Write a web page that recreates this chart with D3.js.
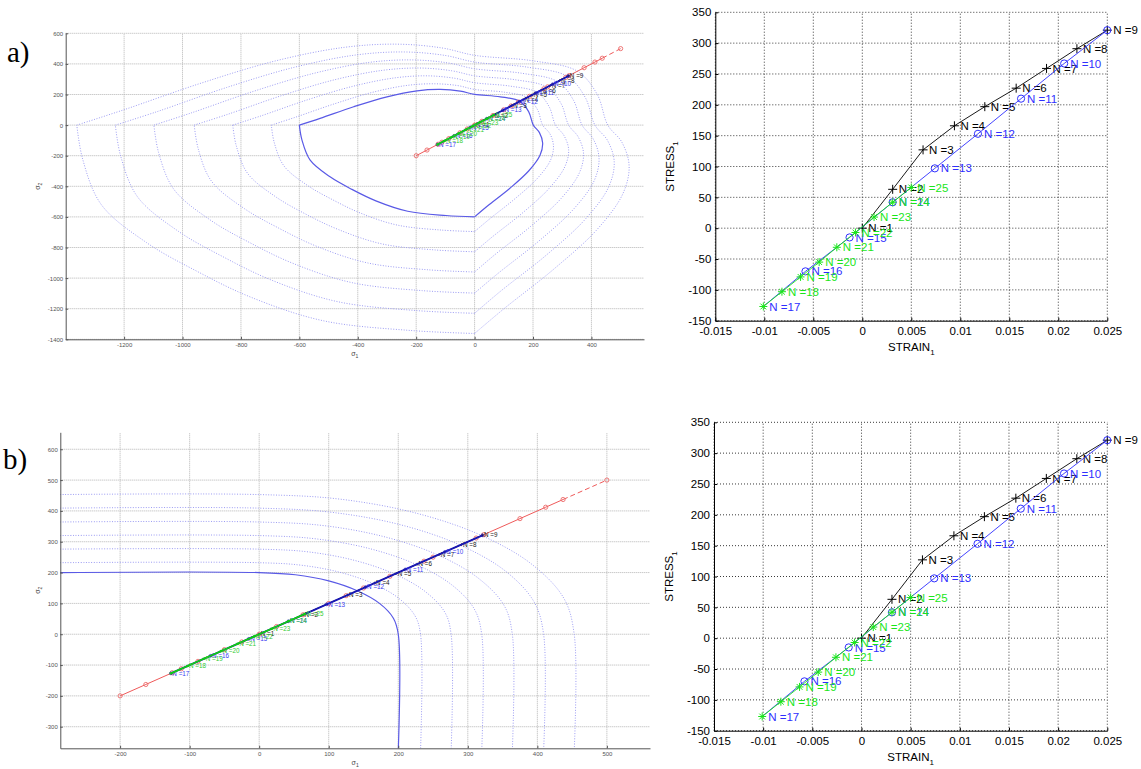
<!DOCTYPE html>
<html>
<head>
<meta charset="utf-8">
<script src="https://cdn.jsdelivr.net/npm/d3@7/dist/d3.min.js"></script>
<style>
    body { margin: 0; background: #fff; }
    svg { display: block; }
    text { font-family: "Liberation Sans", Arial, Helvetica, sans-serif; }
</style>
</head>
<body>
<svg id="fig" width="1141" height="769"></svg>
<script>
// cycle points: loading (black), unloading (blue), reloading (green)
var blackN = [1, 2, 3, 4, 5, 6, 7, 8, 9];
var blackStrain = [0, 0.0031, 0.0062, 0.0094, 0.0125, 0.0157, 0.0188, 0.0219, 0.025];
var blackStress = [0, 63, 127, 166, 197, 227, 259, 291, 321];

var blueN = [9, 10, 11, 12, 13, 14, 15, 16, 17];
var blueStrain = [0.025, 0.0206, 0.0162, 0.0118, 0.0074, 0.0031, -0.0013, -0.0058, -0.0101];
var blueStress = [321, 267, 210, 153, 97, 42, -15, -70, -127];

var greenN = [17, 18, 19, 20, 21, 22, 23, 24, 25];
var greenStrain = [-0.0101, -0.0082, -0.0063, -0.0044, -0.0026, -0.0007, 0.0012, 0.0031, 0.005];
var greenStress = [-127, -103, -79, -55, -31, -7, 18, 42, 66];

// prescribed equibiaxial path (sigma1 = sigma2), red circles
var redPath = [-200, -163, -125, -112, -88, -50, -25, 0, 25, 63, 100, 125, 150, 188, 237, 250, 312, 323, 375, 412, 437, 500];

// a) yield surfaces, half outline from the lower diagonal round the sigma1 = 0 side to the upper diagonal
var initialHalfA = [[-420, -420], [-495, -338], [-563, -229], [-591, -98], [-600, 0], [-529, 44], [-414, 120],
    [-300, 185], [-197, 224], [-117, 233], [-49, 222], [0, 201], [88, 185], [155, 155]];
var laterHalvesA = [
    [[-487, -487], [-574, -392], [-653, -266], [-686, -114], [-696, 0], [-614, 51], [-480, 139], [-348, 215], [-229, 260], [-136, 270], [-57, 258], [0, 233], [102, 215], [180, 180]],
    [[-580, -580], [-683, -466], [-777, -316], [-816, -135], [-828, 0], [-730, 61], [-571, 166], [-414, 255], [-272, 309], [-161, 322], [-68, 306], [0, 277], [121, 255], [214, 214]],
    [[-672, -672], [-792, -541], [-901, -366], [-946, -157], [-960, 0], [-846, 70], [-662, 192], [-480, 296], [-315, 358], [-187, 373], [-78, 355], [0, 322], [141, 296], [248, 248]],
    [[-769, -769], [-906, -619], [-1030, -419], [-1082, -179], [-1098, 0], [-968, 81], [-758, 220], [-549, 339], [-361, 410], [-214, 426], [-90, 406], [0, 368], [161, 339], [284, 284]],
    [[-861, -861], [-1015, -693], [-1154, -469], [-1212, -201], [-1230, 0], [-1084, 90], [-849, 246], [-615, 379], [-404, 459], [-240, 478], [-100, 455], [0, 412], [180, 379], [318, 318]],
    [[-953, -953], [-1124, -767], [-1278, -520], [-1342, -222], [-1362, 0], [-1201, 100], [-940, 272], [-681, 420], [-447, 508], [-266, 529], [-111, 504], [0, 456], [200, 420], [352, 352]]
];

// b) yield surfaces
var initialB = [[-290, 200], [0, 200], [52, 193], [100, 173], [141, 141], [173, 100], [193, 52], [200, 0], [200, -380]];
var laterB = [
    [[-290, 232], [0, 232], [60, 224], [116, 201], [164, 164], [201, 116], [224, 60], [232, 0], [232, -380]],
    [[-290, 276], [0, 276], [71, 267], [138, 239], [195, 195], [239, 138], [267, 71], [276, 0], [276, -380]],
    [[-290, 320], [0, 320], [83, 309], [160, 277], [226, 226], [277, 160], [309, 83], [320, 0], [320, -380]],
    [[-290, 364], [0, 364], [94, 352], [182, 315], [257, 257], [315, 182], [352, 94], [364, 0], [364, -380]],
    [[-290, 409], [0, 409], [106, 395], [205, 354], [289, 289], [354, 205], [395, 106], [409, 0], [409, -380]],
    [[-290, 453], [0, 453], [117, 438], [227, 392], [320, 320], [392, 227], [438, 117], [453, 0], [453, -380]]
];

var xTicksA = [-1200, -1000, -800, -600, -400, -200, 0, 200, 400];
var yTicksA = [-1400, -1200, -1000, -800, -600, -400, -200, 0, 200, 400, 600];
var xTicksB = [-200, -100, 0, 100, 200, 300, 400, 500];
var yTicksB = [-300, -200, -100, 0, 100, 200, 300, 400, 500, 600];
var strainTicks = [-0.015, -0.01, -0.005, 0, 0.005, 0.01, 0.015, 0.02, 0.025];
var stressTicks = [-150, -100, -50, 0, 50, 100, 150, 200, 250, 300, 350];


var svg = d3.select('#fig');

function mirrorClose(half) {
    var back = half.slice(0, -1).reverse().map(function (p) { return [p[1], p[0]]; });
    return half.concat(back);
}

// closed surface cut at its two corners (on the sigma axes) so each arc is smoothed alone
function arcs(half) {
    var loop = mirrorClose(half);
    var k1 = half.findIndex(function (p) { return p[1] === 0 && p[0] < 0; });
    var k2 = loop.length - 1 - k1;
    return [loop.slice(k2).concat(loop.slice(1, k1 + 1)), loop.slice(k1, k2 + 1)];
}

function pack(n, a, b) {
    return n.map(function (d, i) { return {n: d, x: a[i], y: b[i]}; });
}

// matlab style tick text: plain hyphen, no thousands separator
var plain = function (d) { return String(+d.toFixed(4)); };

function marker(g, type, cx, cy, s, color, w) {
    if (type == 'o') {
        g.append('circle').attr('cx', cx).attr('cy', cy).attr('r', s)
            .attr('fill', 'none').attr('stroke', color).attr('stroke-width', w);
        return;
    }
    var segs = [[-s, 0, s, 0], [0, -s, 0, s]];
    if (type == '*') {
        var k = s * 0.72;
        segs.push([-k, -k, k, k], [-k, k, k, -k]);
    }
    segs.forEach(function (q) {
        g.append('line')
            .attr('x1', cx + q[0]).attr('y1', cy + q[1])
            .attr('x2', cx + q[2]).attr('y2', cy + q[3])
            .attr('stroke', color).attr('stroke-width', w);
    });
}

function styleAxis(sel, color, fontSize) {
    sel.selectAll('.domain').attr('stroke', color);
    sel.selectAll('.tick line').attr('stroke', color);
    sel.selectAll('.tick text').attr('fill', color).style('font-size', fontSize + 'px')
        .style('font-family', '"Liberation Sans", Arial, sans-serif');
}

function grid(g, x, y, xTicks, yTicks, color, dash) {
    var xr = x.range(), yr = y.range();
    g.selectAll('.gx').data(xTicks).enter().append('line')
        .attr('x1', x).attr('x2', x).attr('y1', yr[0]).attr('y2', yr[1])
        .attr('stroke', color).attr('stroke-dasharray', dash);
    g.selectAll('.gy').data(yTicks).enter().append('line')
        .attr('y1', y).attr('y2', y).attr('x1', xr[0]).attr('x2', xr[1])
        .attr('stroke', color).attr('stroke-dasharray', dash);
}

// principal stress plane (left panels)
function drawPlane(cfg) {
    var x = d3.scaleLinear().domain(cfg.xDomain).range(cfg.xRange),
        y = d3.scaleLinear().domain(cfg.yDomain).range(cfg.yRange);
    var g = svg.append('g');

    g.append('clipPath').attr('id', 'clip-' + cfg.id)
        .append('rect')
        .attr('x', cfg.xRange[0]).attr('y', cfg.yRange[1])
        .attr('width', cfg.xRange[1] - cfg.xRange[0])
        .attr('height', cfg.yRange[0] - cfg.yRange[1]);

    grid(g.append('g'), x, y, cfg.xTicks, cfg.yTicks, '#b4b4b4', '1,1');

    var plot = g.append('g').attr('clip-path', 'url(#clip-' + cfg.id + ')');
    var line = d3.line()
        .x(function (d) { return x(d[0]); })
        .y(function (d) { return y(d[1]); })
        .curve(d3.curveCatmullRom.alpha(0.5));
    var straight = d3.line()
        .x(function (d) { return x(d[0]); })
        .y(function (d) { return y(d[1]); });

    plot.selectAll('.later').data(cfg.later).enter().append('path')
        .attr('d', line)
        .attr('fill', 'none')
        .attr('stroke', '#9c9cf2')
        .attr('stroke-width', 1)
        .attr('stroke-dasharray', '1,1.6');

    plot.selectAll('.initial').data(cfg.initial).enter().append('path')
        .attr('d', line)
        .attr('fill', 'none')
        .attr('stroke', '#5a5ae6')
        .attr('stroke-width', 1.2);

    // red prescribed path, last leg dashed
    var red = redPath.map(function (s) { return [s, s]; });
    plot.append('path').datum(red.slice(0, -1))
        .attr('d', straight).attr('fill', 'none')
        .attr('stroke', '#ef5a5a').attr('stroke-width', 1);
    plot.append('path').datum(red.slice(-2))
        .attr('d', straight).attr('fill', 'none')
        .attr('stroke', '#ef5a5a').attr('stroke-width', 1)
        .attr('stroke-dasharray', '5,3');
    red.forEach(function (p) {
        marker(plot, 'o', x(p[0]), y(p[1]), 2.1, '#ec6a6a', 0.9);
    });

    var series = [
        {n: blackN, s: blackStress, color: '#111', text: '#222', w: 1, m: '+', skip: 0},
        {n: blueN, s: blueStress, color: '#1818b4', text: '#3c3cf0', w: 1.9, m: 'o', skip: 1},
        {n: greenN, s: greenStress, color: '#10d010', text: '#33cc33', w: 1.7, m: '*', skip: 1}
    ];
    series.forEach(function (ser) {
        var pts = ser.s.map(function (s) { return [s, s]; });
        plot.append('path').datum(pts)
            .attr('d', straight).attr('fill', 'none')
            .attr('stroke', ser.color).attr('stroke-width', ser.w);
        pts.forEach(function (p) {
            marker(plot, ser.m, x(p[0]), y(p[1]), 1.4, ser.color, 0.7);
        });
        plot.selectAll(null).data(ser.n.slice(ser.skip)).enter().append('text')
            .attr('x', function (d, i) { return x(ser.s[i + ser.skip]) + 1.5; })
            .attr('y', function (d, i) { return y(ser.s[i + ser.skip]); })
            .attr('dy', '0.35em')
            .attr('fill', ser.text)
            .style('font-size', '6.3px')
            .text(function (d) { return 'N =' + d; });
    });

    var ax = g.append('g')
        .attr('transform', 'translate(0,' + cfg.yRange[0] + ')')
        .call(d3.axisBottom(x).tickValues(cfg.xTicks).tickFormat(plain)
            .tickSizeInner(-2.5).tickSizeOuter(0).tickPadding(3.5));
    styleAxis(ax, '#555', 6);
    var ay = g.append('g')
        .attr('transform', 'translate(' + cfg.xRange[0] + ',0)')
        .call(d3.axisLeft(y).tickValues(cfg.yTicks).tickFormat(plain)
            .tickSizeInner(-2.5).tickSizeOuter(0).tickPadding(2.5));
    styleAxis(ay, '#555', 6);

    var xl = g.append('text')
        .attr('x', (cfg.xRange[0] + cfg.xRange[1]) / 2)
        .attr('y', cfg.yRange[0] + 16.5)
        .attr('text-anchor', 'middle')
        .attr('fill', '#444')
        .style('font-size', '7px');
    xl.append('tspan').text('σ');
    xl.append('tspan').attr('dy', 1.8).style('font-size', '5px').text('1');

    var cy = (cfg.yRange[0] + cfg.yRange[1]) / 2;
    var yl = g.append('text')
        .attr('transform', 'translate(' + 40 + ',' + cy + ') rotate(-90)')
        .attr('text-anchor', 'middle')
        .attr('fill', '#444')
        .style('font-size', '7px');
    yl.append('tspan').text('σ');
    yl.append('tspan').attr('dy', 1.8).style('font-size', '5px').text('2');
}

// stress-strain (right panels)
function drawCurve(cfg) {
    var x = d3.scaleLinear().domain([-0.015, 0.025]).range(cfg.xRange),
        y = d3.scaleLinear().domain([-150, 350]).range(cfg.yRange);
    var g = svg.append('g');

    grid(g.append('g'), x, y, strainTicks, stressTicks, '#3a3a3a', '1,2');

    var line = d3.line()
        .x(function (d) { return x(d.x); })
        .y(function (d) { return y(d.y); });

    var series = [
        {data: pack(blackN, blackStrain, blackStress), color: '#000', m: '+', s: 4.5, lab: 0, mk: 9},
        {data: pack(blueN, blueStrain, blueStress), color: '#2f2fff', m: 'o', s: 3.6, lab: 1, mk: 8},
        {data: pack(greenN, greenStrain, greenStress), color: '#19e619', m: '*', s: 4, lab: 1, mk: 9}
    ];
    series.forEach(function (ser) {
        g.append('path').datum(ser.data)
            .attr('d', line).attr('fill', 'none')
            .attr('stroke', ser.color).attr('stroke-width', 0.9);
        ser.data.slice(0, ser.mk).forEach(function (d) {
            marker(g, ser.m, x(d.x), y(d.y), ser.s, ser.color, 1);
        });
        g.selectAll(null).data(ser.data.slice(ser.lab)).enter().append('text')
            .attr('x', function (d) { return x(d.x) + 6; })
            .attr('y', function (d) { return y(d.y); })
            .attr('dy', '0.36em')
            .attr('fill', ser.color)
            .style('font-size', '11.5px')
            .text(function (d) { return 'N =' + d.n; });
    });

    var ax = g.append('g')
        .attr('transform', 'translate(0,' + cfg.yRange[0] + ')')
        .call(d3.axisBottom(x).tickValues(strainTicks).tickFormat(plain).tickSizeInner(-3).tickSizeOuter(0).tickPadding(6));
    styleAxis(ax, '#000', 11.5);
    var ay = g.append('g')
        .attr('transform', 'translate(' + cfg.xRange[0] + ',0)')
        .call(d3.axisLeft(y).tickValues(stressTicks).tickFormat(plain).tickSizeInner(-3).tickSizeOuter(0).tickPadding(4));
    styleAxis(ay, '#000', 11.5);

    var xl = g.append('text')
        .attr('x', (cfg.xRange[0] + cfg.xRange[1]) / 2)
        .attr('y', cfg.yRange[0] + 30)
        .attr('text-anchor', 'middle')
        .style('font-size', '11.5px');
    xl.append('tspan').text('STRAIN');
    xl.append('tspan').attr('dy', 4).style('font-size', '8px').text('1');

    var yl = g.append('text')
        .attr('transform', 'translate(' + cfg.yLabelX + ',' + ((cfg.yRange[0] + cfg.yRange[1]) / 2) + ') rotate(-90)')
        .attr('text-anchor', 'middle')
        .style('font-size', '11.5px');
    yl.append('tspan').text('STRESS');
    yl.append('tspan').attr('dy', 4).style('font-size', '8px').text('1');
}

drawPlane({
    id: 'a',
    xDomain: [-1400, 580], xRange: [65.7, 644],
    yDomain: [-1400, 600], yRange: [339.3, 33.3],
    xTicks: xTicksA, yTicks: yTicksA,
    initial: arcs(initialHalfA),
    later: d3.merge(laterHalvesA.map(arcs))
});

drawPlane({
    id: 'b',
    xDomain: [-286, 562], xRange: [60.3, 650],
    yDomain: [-370, 655], yRange: [748.3, 432.3],
    xTicks: xTicksB, yTicks: yTicksB,
    initial: [initialB],
    later: laterB
});

drawCurve({xRange: [715.3, 1107.3], yRange: [320.7, 12.3], yLabelX: 674});
drawCurve({xRange: [714, 1107.3], yRange: [730.7, 422.3], yLabelX: 673});

svg.append('text').attr('x', 7).attr('y', 62)
    .style('font-family', '"Liberation Serif", "Times New Roman", serif')
    .style('font-size', '29px').text('a)');
svg.append('text').attr('x', 3).attr('y', 469)
    .style('font-family', '"Liberation Serif", "Times New Roman", serif')
    .style('font-size', '29px').text('b)');
</script>
</body>
</html>
